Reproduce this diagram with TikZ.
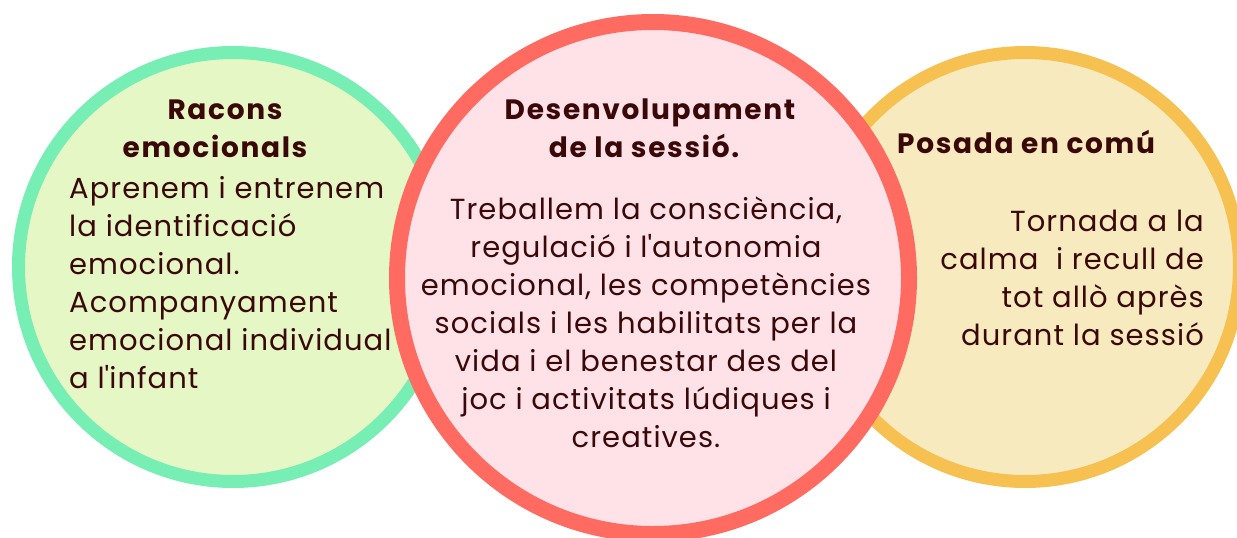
\documentclass[tikz,border=0pt]{standalone}
\usepackage{fontspec}
\setmainfont{Poppins}[LetterSpace=3.6]
\newfontfamily\titlefont{Poppins}[LetterSpace=6]
\definecolor{gborder}{HTML}{76EEB4}
\definecolor{gfill}{HTML}{E4F7C4}
\definecolor{rborder}{HTML}{FF6B61}
\definecolor{rfill}{HTML}{FFE2E7}
\definecolor{yborder}{HTML}{F6C150}
\definecolor{yfill}{HTML}{F8EABF}
\definecolor{txt}{HTML}{3A0808}
\tikzset{
  disc/.style={circle, inner sep=0pt, outer sep=0pt},
  body/.style={inner sep=0pt, text=txt, font=\fontsize{29}{38}\selectfont},
  head/.style={inner sep=0pt, text=txt, font=\titlefont\bfseries\fontsize{28}{38}\selectfont},
}
\begin{document}
\begin{tikzpicture}[x=1pt,y=-1pt]
\useasboundingbox (0,0) rectangle (1237,538);
\clip (0,0) rectangle (1237,538);
% circles
\node[disc, draw=gborder, fill=gfill, line width=13pt, minimum size=429pt] (cleft) at (233,267) {};
\node[disc, draw=yborder, fill=yfill, line width=13pt, minimum size=429pt] (cright) at (1025,267) {};
\node[disc, draw=rborder, fill=rfill, line width=16pt, minimum size=512pt] (cmid) at (653,278) {};
% left texts
\node[head, anchor=base] (lt1) at (225,119) {Racons};
\node[head, anchor=base] (lt2) at (215,157) {emocionals};
\foreach \t [count=\i] in {Aprenem i entrenem, la identificació, emocional., Acompanyament, emocional individual, a l\textquotesingle infant}{
  \node[body, anchor=base west] (lb\i) at (69,160+38*\i) {\t};
}
% middle texts
\node[head, anchor=base] (mt1) at (650,119) {Desenvolupament};
\node[head, anchor=base] (mt2) at (644,157) {de la sessió.};
\foreach \t [count=\i] in {{Treballem la consciència,}, regulació i l\textquotesingle autonomia, {emocional, les competències}, socials i les habilitats per la, vida i el benestar des del, joc i activitats lúdiques i, creatives.}{
  \node[body, anchor=base] (mb\i) at (646,181+38*\i) {\t};
}
% right texts
\node[head, anchor=base west] (rt1) at (897,153) {Posada en comú};
\foreach \t [count=\i] in {Tornada a la, calma\ \ i recull de, tot allò après, durant la sessió}{
  \node[body, anchor=base east] (rb\i) at (1204,193+38*\i) {\t};
}
\end{tikzpicture}
\end{document}
